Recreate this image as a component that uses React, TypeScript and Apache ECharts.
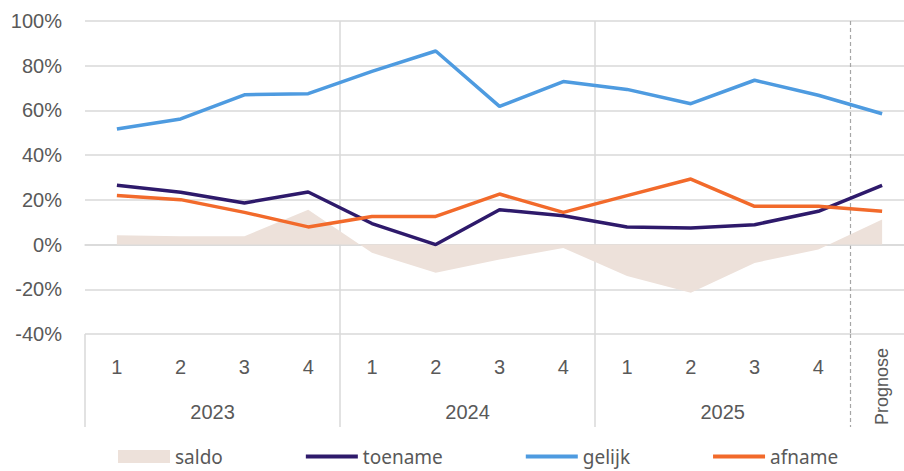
import React, { useEffect, useRef } from "react";
import * as echarts from "echarts";

const years = ["2023", "2024", "2025"];
const quarters = ["1", "2", "3", "4"];
const prognoseLabel = "Prognose";
const categories = [
  ...years.flatMap((y) => quarters.map((q) => `${y} ${q}`)),
  prognoseLabel,
];

const saldo = [4.2, 3.7, 3.7, 15.6, -3.7, -12.6, -6.7, -1.5, -14.1, -21.6, -8.2, -2.2, 11.2];
const toename = [26.5, 23.4, 18.6, 23.5, 9.4, 0.0, 15.6, 12.9, 7.9, 7.4, 8.9, 14.9, 26.5];
const gelijk = [51.7, 56.2, 67.0, 67.5, 77.5, 86.6, 61.8, 72.9, 69.4, 63.0, 73.5, 66.8, 58.5];
const afname = [21.9, 20.1, 14.4, 7.9, 12.6, 12.6, 22.6, 14.4, 21.9, 29.3, 17.1, 17.1, 14.9];

const yTicks = { min: -40, max: 100, interval: 20 };

// half-step positions for group labels and separators (27 points across 13 categories)
const halfSteps = Array.from({ length: categories.length * 2 + 1 }, (_, i) => String(i));
const yearLabelAt: Record<number, string> = { 4: years[0], 12: years[1], 20: years[2] };
const yearSeparators = [0, 8, 16];
const innerSeparators = [8, 16];
const prognoseSeparator = 24;
const prognoseLabelAt = 25;

const GRID = "#D9D9D9";
const TXT = "#595959";
const FONT = "Liberation Sans";
const LINE_ICON = "path://M0,0H52V4H0Z";

export default function App() {
  const ref = useRef<HTMLDivElement>(null);
  useEffect(() => {
    if (!ref.current) return;
    const chart = echarts.init(ref.current, null, { renderer: "svg" });
    chart.setOption({
      animation: false,
      grid: { left: 85, top: 21, width: 829, height: 313, containLabel: false },
      legend: {
        left: 113,
        top: 442,
        itemWidth: 52,
        itemHeight: 13,
        itemGap: 83,
        symbolKeepAspect: true,
        textStyle: { color: TXT, fontSize: 19, fontFamily: "Noto Sans" },
        data: [
          { name: "saldo", icon: "rect" },
          { name: "toename", icon: LINE_ICON },
          { name: "gelijk", icon: LINE_ICON },
          { name: "afname", icon: LINE_ICON },
        ],
      },
      xAxis: [
        {
          type: "category",
          data: categories,
          boundaryGap: true,
          position: "bottom",
          axisLine: { show: true, lineStyle: { color: GRID, width: 1.5 } },
          axisTick: { show: false },
          splitLine: { show: false },
          axisLabel: {
            interval: 0,
            margin: 23,
            fontSize: 20,
            fontFamily: FONT,
            color: TXT,
            formatter: (v: string) => (v === prognoseLabel ? "" : v.split(" ")[1]),
          },
        },
        {
          type: "category",
          data: halfSteps,
          boundaryGap: false,
          position: "bottom",
          axisLine: { show: false },
          axisTick: {
            show: true,
            length: 93,
            interval: (i: number) => yearSeparators.includes(i),
            lineStyle: { color: GRID, width: 1.5 },
          },
          splitLine: {
            show: true,
            interval: (i: number) => innerSeparators.includes(i),
            lineStyle: { color: GRID, width: 1.5 },
          },
          axisLabel: {
            interval: (i: number) => yearLabelAt[i] !== undefined,
            margin: 68,
            fontSize: 20,
            fontFamily: FONT,
            color: TXT,
            formatter: (_v: string, i: number) => yearLabelAt[i] ?? "",
          },
        },
        {
          type: "category",
          data: halfSteps,
          boundaryGap: false,
          position: "bottom",
          axisLine: { show: false },
          axisTick: {
            show: true,
            length: 93,
            interval: (i: number) => i === prognoseSeparator,
            lineStyle: { color: "#A6A6A6", width: 1.2, type: [4, 3] },
          },
          splitLine: {
            show: true,
            interval: (i: number) => i === prognoseSeparator,
            lineStyle: { color: "#A6A6A6", width: 1.2, type: [4, 3] },
          },
          axisLabel: {
            interval: (i: number) => i === prognoseLabelAt,
            rotate: 90,
            margin: 14,
            fontSize: 18,
            fontFamily: FONT,
            color: TXT,
            formatter: (_v: string, i: number) => (i === prognoseLabelAt ? prognoseLabel : ""),
          },
        },
      ],
      yAxis: {
        type: "value",
        min: yTicks.min,
        max: yTicks.max,
        interval: yTicks.interval,
        axisLine: { show: false },
        axisTick: { show: false },
        splitLine: { lineStyle: { color: GRID, width: 1.5 } },
        axisLabel: {
          margin: 23,
          fontSize: 20,
          fontFamily: FONT,
          color: TXT,
          formatter: (v: number) => `${v}%`,
        },
      },
      series: [
        {
          name: "saldo",
          type: "line",
          data: saldo,
          symbol: "none",
          color: "#EDE1DA",
          lineStyle: { width: 0 },
          areaStyle: { color: "#EDE1DA", opacity: 1 },
          z: 1,
        },
        {
          name: "toename",
          type: "line",
          data: toename,
          symbol: "none",
          color: "#2E1A6B",
          lineStyle: { width: 3.5, color: "#2E1A6B" },
          z: 3,
        },
        {
          name: "gelijk",
          type: "line",
          data: gelijk,
          symbol: "none",
          color: "#4E9BE0",
          lineStyle: { width: 3.5, color: "#4E9BE0" },
          z: 3,
        },
        {
          name: "afname",
          type: "line",
          data: afname,
          symbol: "none",
          color: "#F26A2B",
          lineStyle: { width: 3.5, color: "#F26A2B" },
          z: 3,
        },
      ],
    });
    return () => chart.dispose();
  }, []);
  return (
    <div
      style={{
        position: "fixed",
        left: 0,
        top: 0,
        width: 904,
        height: 471,
        overflow: "hidden",
        background: "#fff",
      }}
    >
      <div ref={ref} style={{ width: 930, height: 471 }} />
    </div>
  );
}
